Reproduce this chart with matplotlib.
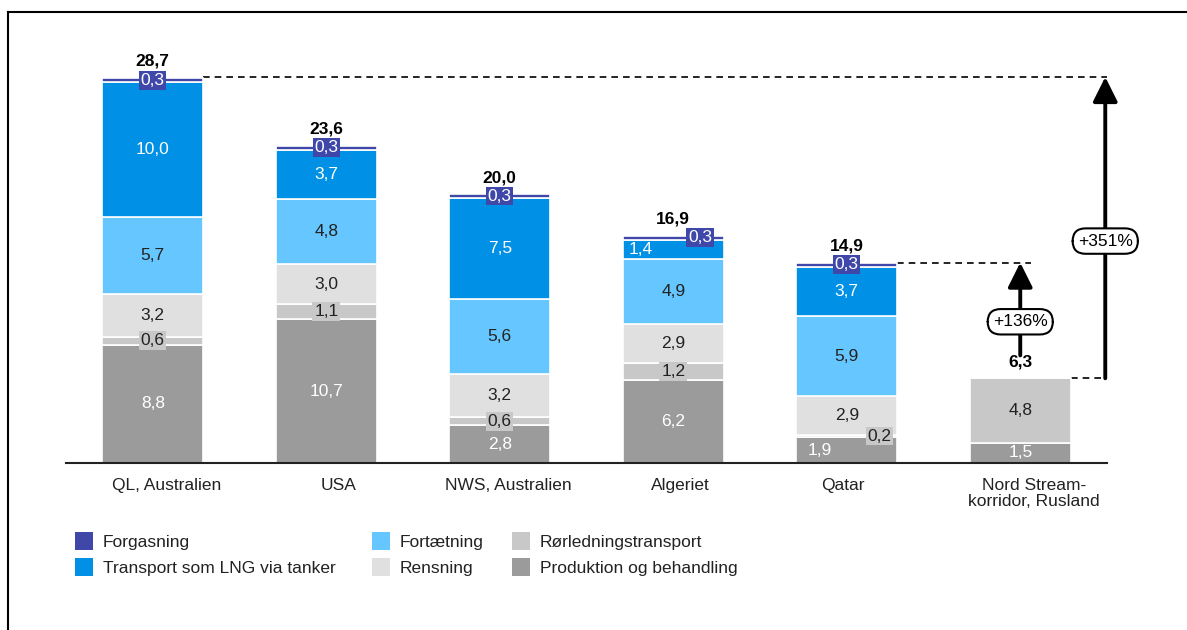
import matplotlib
matplotlib.use("Agg")
import matplotlib.pyplot as plt
from matplotlib.patches import Rectangle
from matplotlib.lines import Line2D
from matplotlib.transforms import offset_copy
import numpy as np

plt.rcParams['font.family'] = ['Liberation Sans', 'DejaVu Sans']

categories = ["QL, Australien", "USA", "NWS, Australien", "Algeriet", "Qatar",
              "Nord Stream-\nkorridor, Rusland"]
series_names = ["Produktion og behandling", "Rørledningstransport", "Rensning",
                "Fortætning", "Transport som LNG via tanker", "Forgasning"]
produktion = [8.8, 10.7, 2.8, 6.2, 1.9, 1.5]
roerledning = [0.6, 1.1, 0.6, 1.2, 0.2, 4.8]
rensning = [3.2, 3.0, 3.2, 2.9, 2.9, 0.0]
fortaetning = [5.7, 4.8, 5.6, 4.9, 5.9, 0.0]
lng_transport = [10.0, 3.7, 7.5, 1.4, 3.7, 0.0]
forgasning = [0.3, 0.3, 0.3, 0.3, 0.3, 0.0]
totals = [28.7, 23.6, 20.0, 16.9, 14.9, 6.3]
pct_labels = ["+351%", "+136%"]

series = [produktion, roerledning, rensning, fortaetning, lng_transport, forgasning]
colors = ["#9b9b9b", "#c8c8c8", "#e0e0e0", "#66c6ff", "#0090e5", "#3f48a8"]
text_colors = ["white", "#222222", "#222222", "#222222", "white", "white"]
FS = 12.5

fig = plt.figure(figsize=(11.87, 6.30), dpi=100)
ax = fig.add_axes([66 / 1187, 1 - 463 / 630, (1107 - 66) / 1187, 423 / 630])
ax.set_xlim(-0.5, 5.5)
ax.set_ylim(0, 423 / 13.45)
ax.axis('off')

x = np.arange(len(categories))
width = 0.58
bottom = np.zeros(len(categories))
for s, (vals, col) in enumerate(zip(series, colors)):
    vals = np.array(vals)
    ax.bar(x, vals, width, bottom=bottom, color=col, edgecolor='white', linewidth=1.2, zorder=2)
    bottom = bottom + vals

small_box = {1: "#c8c8c8", 5: "#3f48a8"}
x_shift = {(3, 4): -0.19, (3, 5): 0.155, (4, 0): -0.155, (4, 1): 0.19}

bottom = np.zeros(len(categories))
for s, vals in enumerate(series):
    for i, v in enumerate(vals):
        if v <= 0:
            continue
        yc = bottom[i] + v / 2
        xc = x[i] + x_shift.get((i, s), 0)
        lab = f"{v:.1f}".replace('.', ',')
        kw = {}
        boxed = (s == 5) or (s == 1 and v < 1.5)
        if boxed:
            kw['bbox'] = dict(boxstyle='square,pad=0.1', fc=small_box[s], ec='none')
        ax.text(xc, yc, lab, ha='center', va='center', fontsize=FS,
                color=text_colors[s], zorder=5, **kw)
    bottom = bottom + np.array(vals)

for i, t in enumerate(totals):
    ax.text(x[i], t + 0.65, f"{t:.1f}".replace('.', ','), ha='center', va='bottom',
            fontsize=FS, fontweight='bold', color='black', zorder=5)

ax.plot([-0.5, 5.5], [0, 0], color='#222222', lw=1.5, clip_on=False, zorder=3)

label_dx = [14, 12, 9, 7, -4, 14]  # pixel nudges of category labels
for i, c in enumerate(categories):
    tr = offset_copy(ax.transData, fig=fig, x=label_dx[i], y=-5, units='dots')
    ax.text(x[i], -0.75, c, ha='center', va='top', fontsize=FS, color='#222222',
            linespacing=1.05, transform=tr)

dash = (0, (4, 3))
ax.plot([x[0] + width / 2, 5.53], [totals[0], totals[0]], ls=dash, color='black', lw=1.2, zorder=1)
ax.plot([x[4] + width / 2, 5.06], [totals[4], totals[4]], ls=dash, color='black', lw=1.2, zorder=1)
ax.plot([x[5] + width / 2, 5.495], [totals[5], totals[5]], ls=dash, color='black', lw=1.2, zorder=1)

astyle = '-|>,head_length=1.5,head_width=0.75'
xa1 = 5.49
ax.annotate('', xy=(xa1, totals[0]), xytext=(xa1, totals[5]),
            arrowprops=dict(arrowstyle=astyle, color='black', lw=2.8, shrinkA=0, shrinkB=0), zorder=4)
ax.text(xa1, 16.5, pct_labels[0], ha='center', va='center', fontsize=FS, zorder=6,
        bbox=dict(boxstyle='round,pad=0.3,rounding_size=0.75', fc='white', ec='black', lw=1.5))
xa2 = x[5]
ax.annotate('', xy=(xa2, totals[4]), xytext=(xa2, totals[5] + 1.7),
            arrowprops=dict(arrowstyle=astyle, color='black', lw=2.8, shrinkA=0, shrinkB=0), zorder=4)
ax.text(xa2, 10.5, pct_labels[1], ha='center', va='center', fontsize=FS, zorder=6,
        bbox=dict(boxstyle='round,pad=0.3,rounding_size=0.75', fc='white', ec='black', lw=1.5))

legend_items = [(5, 75, 541), (4, 75, 567), (3, 372, 541), (2, 372, 567), (1, 512, 541), (0, 512, 567)]
W, H = 1187, 630
for s, px, py in legend_items:
    fig.patches.append(Rectangle((px / W, 1 - (py + 9) / H), 18 / W, 18 / H,
                                 transform=fig.transFigure, fc=colors[s], ec='none'))
    fig.text((px + 28) / W, 1 - (py + 1) / H, series_names[s], ha='left', va='center',
             fontsize=FS, color='#222222')

fig.add_artist(Line2D([8 / W, 1.0], [1 - 12 / H, 1 - 12 / H], color='black', lw=1.5,
                      transform=fig.transFigure))
fig.add_artist(Line2D([8 / W, 8 / W], [1 - 12 / H, 0], color='black', lw=1.5,
                      transform=fig.transFigure))

fig.savefig('out.png', dpi=100)
